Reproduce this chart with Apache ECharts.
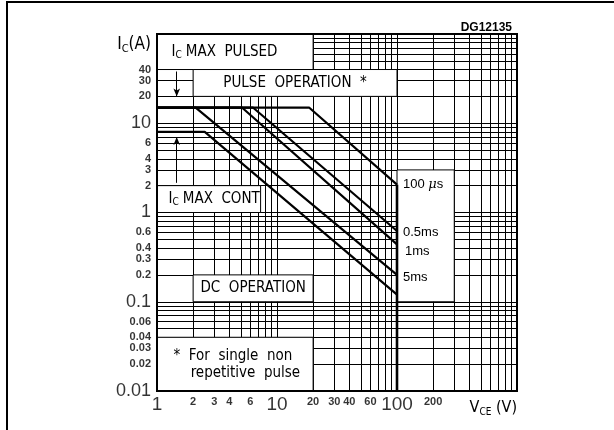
<!DOCTYPE html>
<html><head><meta charset="utf-8">
<script src="https://cdn.jsdelivr.net/npm/echarts@6/dist/echarts.min.js"></script>
<style>html,body{margin:0;padding:0;background:#fff}#c{width:614px;height:430px}</style>
</head><body><div id="c"></div>
<script>
// ---- tick labels ----
const xTickValues = [1, 2, 3, 4, 6, 10, 20, 30, 40, 60, 100, 200];
const xTickLabels = ['1', '2', '3', '4', '6', '10', '20', '30', '40', '60', '100', '200'];
const yTickValues = [0.01, 0.02, 0.03, 0.04, 0.06, 0.1, 0.2, 0.3, 0.4, 0.6, 1, 2, 3, 4, 6, 10, 20, 30, 40];
const yTickLabels = ['0.01', '0.02', '0.03', '0.04', '0.06', '0.1', '0.2', '0.3', '0.4', '0.6', '1', '2', '3', '4', '6', '10', '20', '30', '40'];
const majorLabels = ['1', '10', '100', '0.1', '0.01'];

// ---- log grid lines ----
const xGridValues = [2, 3, 4, 5, 6, 7, 8, 9, 10, 20, 30, 40, 50, 60, 70, 80, 90, 100, 200, 300, 400, 500, 600, 700, 800, 900];
const yGridValues = [0.02, 0.03, 0.04, 0.05, 0.06, 0.07, 0.08, 0.09, 0.1, 0.2, 0.3, 0.4, 0.5, 0.6, 0.7, 0.8, 0.9, 1, 2, 3, 4, 5, 6, 7, 8, 9, 10, 20, 30, 40, 50, 60, 70, 80, 90];

// ---- SOA curves (VCE in V, IC in A) ----
const dcV = [1, 2.5, 100];
const dcI = [8, 8, 0.12];
const ms5V = [1, 2.1, 100];
const ms5I = [15, 15, 0.2];
const ms1V = [1, 5.1, 100];
const ms1I = [15, 15, 0.44];
const ms05V = [1, 6.3, 100];
const ms05I = [15, 15, 0.62];
const us100V = [1, 18.5, 100];
const us100I = [15, 15, 2.05];
const vceMaxV = [100, 100];
const vceMaxI = [2.05, 0.01];

const BOXFONT = '"Liberation Sans Narrow","DejaVu Sans Condensed","Roboto Condensed",sans-serif';
const NUMFONT = '"Liberation Sans",Arial,sans-serif';

function zip(a, b) { return a.map((v, i) => [v, b[i]]); }

const chart = echarts.init(document.getElementById('c'), null, { renderer: 'canvas' });

const boxStyle = { color: '#fff', borderColor: '#000', borderWidth: 1 };
const boxRich = {
  n: { fontFamily: BOXFONT, fontSize: 15, color: '#000', lineHeight: 17 },
  s: { fontFamily: BOXFONT, fontSize: 10, color: '#000', verticalAlign: 'bottom', lineHeight: 17, padding: [0, 4, 0, 0] }
};
function boxLabel(text, extra) {
  return Object.assign({ show: true, position: 'inside', formatter: text, rich: boxRich,
    fontFamily: BOXFONT, fontSize: 15, color: '#000' }, extra || {});
}

function curve(name, v, i, endLbl) {
  return {
    type: 'line', name: name, data: zip(v, i), symbol: 'none', z: 5, clip: false,
    lineStyle: { color: '#000', width: 2.2 }, animation: false, silent: true,
    endLabel: endLbl ? Object.assign({ show: true, formatter: endLbl.text, fontFamily: NUMFONT, fontSize: 13,
      color: '#000', distance: 6, rich: { m: { fontFamily: 'DejaVu Serif', fontStyle: 'italic', fontSize: 13 } } }, endLbl.opt || {}) : { show: false }
  };
}

const option = {
  animation: false,
  backgroundColor: '#fff',
  title: {
    text: 'DG12135', right: 97, top: 17,
    textStyle: { fontFamily: NUMFONT, fontSize: 12, fontWeight: 'bold', color: '#000' }
  },
  graphic: [{
    type: 'rect', shape: { x: 7, y: 2, width: 700, height: 600 },
    style: { fill: 'none', stroke: '#000', lineWidth: 2 }, silent: true
  }],
  grid: { left: 157, right: 97, top: 34, bottom: 39, show: true, borderColor: '#000', borderWidth: 2, backgroundColor: 'transparent', z: 20 },
  xAxis: {
    type: 'log', logBase: 10, min: 1, max: 1000,
    axisLine: { show: false }, axisTick: { show: false }, axisLabel: { show: false }, splitLine: { show: false },
    name: '{n|V}{s|CE}{n| (V)}', nameLocation: 'end', nameGap: 0,
    nameTextStyle: { align: 'right', verticalAlign: 'top', padding: [8, 0, 0, 0],
      rich: { n: { fontFamily: BOXFONT, fontSize: 16, color: '#000', lineHeight: 18 },
              s: { fontFamily: BOXFONT, fontSize: 10, color: '#000', verticalAlign: 'bottom', lineHeight: 18 } } }
  },
  yAxis: {
    type: 'log', logBase: 10, min: 0.01, max: 100,
    axisLine: { show: false }, axisTick: { show: false }, axisLabel: { show: false }, splitLine: { show: false },
    name: '{n|I}{s|C}{n|(A)}', nameLocation: 'end', nameGap: -11,
    nameTextStyle: { align: 'right', verticalAlign: 'middle', padding: [0, 6, 0, 0],
      rich: { n: { fontFamily: BOXFONT, fontSize: 17, color: '#000', lineHeight: 19 },
              s: { fontFamily: BOXFONT, fontSize: 11, color: '#000', verticalAlign: 'bottom', lineHeight: 19 } } }
  },
  series: [
    // grid lines
    {
      type: 'scatter', name: 'grid', data: [], silent: true,
      markLine: {
        silent: true, symbol: ['none', 'none'], z: 1, animation: false,
        label: { show: false },
        lineStyle: { color: '#000', width: 1, type: 'solid' },
        data: xGridValues.map(v => ({ xAxis: v })).concat(yGridValues.map(v => ({ yAxis: v })))
      }
    },
    // text boxes
    {
      type: 'scatter', name: 'boxes', data: [], silent: true,
      markArea: {
        silent: true, z: 2, animation: false,
        data: [
          [{ coord: [1, 40], itemStyle: boxStyle, label: boxLabel('{n|I}{s|C}{n|MAX  PULSED}', { position: 'insideLeft', offset: [10, 0] }) }, { coord: [20, 100] }],
          [{ coord: [2, 20], itemStyle: boxStyle, label: boxLabel('{n|PULSE  OPERATION  *}') }, { coord: [100, 40] }],
          [{ coord: [1, 1], itemStyle: boxStyle, label: boxLabel('{n|I}{s|C}{n|MAX  CONT}', { position: 'insideLeft', offset: [7, 0] }) }, { coord: [7.3, 2] }],
          [{ coord: [2, 0.1], itemStyle: boxStyle, label: boxLabel('{n|DC  OPERATION}') }, { coord: [20, 0.2] }],
          [{ coord: [1, 0.01], itemStyle: boxStyle, label: boxLabel('{n|*  For  single  non}\n{n|    repetitive  pulse}', { position: 'insideLeft', offset: [12, 0] }) }, { coord: [20, 0.04] }],
          [{ coord: [100, 0.1], itemStyle: boxStyle, label: { show: false } }, { coord: [300, 3] }]
        ]
      }
    },
    // arrows
    {
      type: 'scatter', name: 'arrows', data: [], silent: true,
      markLine: {
        silent: true, z: 6, animation: false, symbol: ['none', 'arrow'], symbolSize: [5, 8],
        label: { show: false },
        lineStyle: { color: '#000', width: 1, type: 'solid' },
        data: [
          [{ coord: [1.46, 38] }, { coord: [1.46, 20] }],
          [{ coord: [1.46, 2.15] }, { coord: [1.46, 7] }]
        ]
      }
    },
    curve('DC', dcV, dcI, null),
    curve('5ms', ms5V, ms5I, { text: '5ms', opt: { offset: [0, 3] } }),
    curve('1ms', ms1V, ms1I, { text: '1ms', opt: { offset: [2, 7] } }),
    curve('0.5ms', ms05V, ms05I, { text: '0.5ms', opt: { offset: [0, 1] } }),
    curve('100us', us100V, us100I, { text: '100 {m|μ}s', opt: { offset: [0, 0] } }),
    {
      type: 'line', name: 'VCEmax', data: zip(vceMaxV, vceMaxI), symbol: 'none', z: 5, clip: false,
      lineStyle: { color: '#000', width: 2.6 }, silent: true
    },
    // x tick labels
    {
      type: 'scatter', name: 'xticks', data: xTickValues.map(v => [v, 0.01]), symbolSize: 0, clip: false, silent: true, z: 8,
      label: {
        show: true, position: 'bottom', distance: 5,
        formatter: p => { const t = xTickLabels[p.dataIndex]; return majorLabels.includes(t) ? '{b|' + t + '}' : '{s|' + t + '}'; },
        rich: {
          b: { fontFamily: NUMFONT, fontSize: 19, color: '#000', lineHeight: 17 },
          s: { fontFamily: NUMFONT, fontSize: 11, fontWeight: 'bold', color: '#000', lineHeight: 11 }
        }
      }
    },
    // y tick labels
    {
      type: 'scatter', name: 'yticks', data: yTickValues.map(v => [1, v]), symbolSize: 0, clip: false, silent: true, z: 8,
      label: {
        show: true, position: 'left', distance: 6,
        formatter: p => { const t = yTickLabels[p.dataIndex]; return majorLabels.includes(t) ? '{b|' + t + '}' : '{s|' + t + '}'; },
        rich: {
          b: { fontFamily: NUMFONT, fontSize: 18, color: '#000' },
          s: { fontFamily: NUMFONT, fontSize: 11, fontWeight: 'bold', color: '#000' }
        }
      }
    }
  ]
};
chart.setOption(option);
</script></body></html>
